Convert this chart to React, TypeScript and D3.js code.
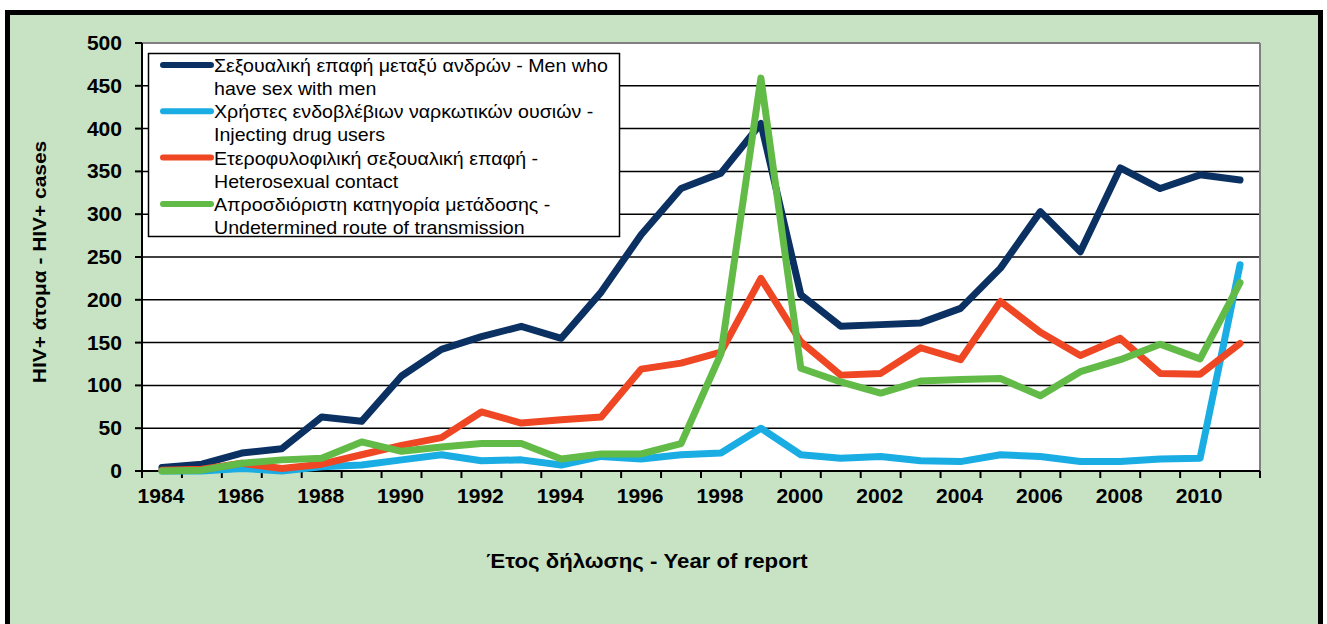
import React from 'react'
import * as d3 from 'd3'

const years = d3.range(1984, 2012)
const yTicks = [0, 50, 100, 150, 200, 250, 300, 350, 400, 450, 500]
const xLabelYears = years.filter(y => y % 2 === 0)

const msm = [4, 8, 21, 26, 63, 58, 111, 142, 157, 169, 155, 209, 276, 330, 348, 406, 206, 169, 171, 173, 190, 237, 303, 256, 354, 330, 346, 340]
const idu = [0, 0, 3, 0, 5, 7, 13, 19, 12, 13, 7, 17, 14, 19, 21, 50, 19, 15, 17, 12, 11, 19, 17, 11, 11, 14, 15, 241]
const hetero = [1, 2, 9, 3, 8, 19, 30, 39, 69, 56, 60, 63, 119, 126, 139, 225, 151, 112, 114, 144, 130, 198, 162, 135, 155, 114, 113, 149]
const undetermined = [0, 1, 9, 13, 15, 34, 23, 28, 32, 32, 14, 20, 20, 32, 137, 459, 120, 104, 91, 105, 107, 108, 88, 116, 130, 148, 131, 220]

const seriesNames = [
  ['Σεξουαλική επαφή μεταξύ ανδρών - Men who', 'have sex with men'],
  ['Χρήστες ενδοβλέβιων ναρκωτικών ουσιών -', 'Injecting drug users'],
  ['Ετεροφυλοφιλική σεξουαλική επαφή -', 'Heterosexual contact'],
  ['Απροσδιόριστη κατηγορία μετάδοσης -', 'Undetermined route of transmission'],
]
const seriesValues = [msm, idu, hetero, undetermined]
const colors = ['#0b3163', '#19ade3', '#ef4724', '#62bb47']

const font = '"Liberation Sans", Arial, sans-serif'

// text stretched sideways a little, like the original's wide Arial
function T({ x, y, sx = 1, rot = 0, children, ...rest }: any) {
  return (
    <text transform={`translate(${x},${y}) rotate(${rot}) scale(${sx},1)`} {...rest}>{children}</text>
  )
}

export default function App() {
  const left = 142, right = 1260, top = 43, bottom = 471

  const x = d3.scaleBand<number>().domain(years).range([left, right]).padding(0)
  const y = d3.scaleLinear().domain([0, 500]).range([bottom, top])
  const cx = (yr: number) => (x(yr) as number) + x.bandwidth() / 2

  const line = d3.line<number>()
    .x((d, i) => cx(years[i]))
    .y(d => y(d))

  return (
    <svg width={1327} height={624} style={{ position: 'absolute', left: 0, top: 0, fontFamily: font }}>
      {/* outer frame */}
      <rect x={7.5} y={12.5} width={1313} height={640} fill="#c8e3c4" stroke="#000" strokeWidth={5} />

      {/* plot area */}
      <rect x={left} y={top} width={right - left} height={bottom - top} fill="#fff" />
      {yTicks.filter(t => t > 0 && t < 500).map(t => (
        <line key={t} x1={left} x2={right} y1={y(t)} y2={y(t)} stroke="#000" strokeWidth={1.5} />
      ))}
      <line x1={left} x2={right} y1={top} y2={top} stroke="#808080" strokeWidth={2} />
      <line x1={right} x2={right} y1={top} y2={bottom} stroke="#808080" strokeWidth={2} />

      {/* y axis */}
      <line x1={left} x2={left} y1={top} y2={bottom} stroke="#000" strokeWidth={2} />
      {yTicks.map(t => (
        <g key={t}>
          <line x1={left - 7} x2={left} y1={y(t)} y2={y(t)} stroke="#000" strokeWidth={2} />
          <T x={122} y={y(t) + 7} sx={1.08} textAnchor="end" fontSize={19.5} fontWeight="bold">{t}</T>
        </g>
      ))}

      {/* x axis */}
      <line x1={left} x2={right} y1={bottom} y2={bottom} stroke="#000" strokeWidth={2} />
      {[...years, 2012].map((yr, i) => {
        const xx = left + i * x.bandwidth()
        return <line key={yr} x1={xx} x2={xx} y1={bottom} y2={bottom + 7} stroke="#000" strokeWidth={2} />
      })}
      {xLabelYears.map(yr => (
        <T key={yr} x={cx(yr) - 1} y={503} sx={1.08} textAnchor="middle" fontSize={19.5} fontWeight="bold">{yr}</T>
      ))}

      {/* series */}
      {seriesValues.map((vals, i) => (
        <path key={i} d={line(vals) || ''} fill="none" stroke={colors[i]} strokeWidth={7}
          strokeLinejoin="round" strokeLinecap="round" />
      ))}

      {/* legend */}
      <rect x={148.5} y={53.5} width={471} height={183} fill="#fff" stroke="#000" strokeWidth={1.5} />
      {seriesNames.map((lines, i) => {
        const ly = 65 + i * 46.3
        return (
          <g key={i}>
            <line x1={163} x2={211} y1={ly} y2={ly} stroke={colors[i]} strokeWidth={6} strokeLinecap="round" />
            <T x={214} y={ly + 7} sx={1.09} fontSize={18}>{lines[0]}</T>
            <T x={214} y={ly + 30} sx={1.09} fontSize={18}>{lines[1]}</T>
          </g>
        )
      })}

      {/* axis titles */}
      <T x={46} y={262} rot={-90} sx={1.1} textAnchor="middle" fontSize={19} fontWeight="bold">
        HIV+ άτομα  -  HIV+ cases
      </T>
      <T x={647} y={568} sx={1.11} textAnchor="middle" fontSize={20} fontWeight="bold">
        Έτος δήλωσης - Year of report
      </T>
    </svg>
  )
}
